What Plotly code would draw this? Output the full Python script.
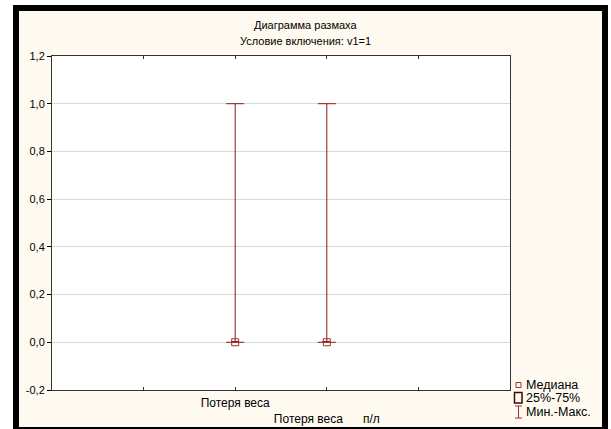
import plotly.graph_objects as go

# ---- data ----
title_text = "Диаграмма размаха"
subtitle_text = "Условие включения: v1=1"
categories = ["Потеря веса", "Потеря веса      п/л"]
cat_positions = [2, 3]
medians = [0.0, 0.0]
q1 = [0.0, 0.0]
q3 = [0.0, 0.0]
mins = [0.0, 0.0]
maxs = [1.0, 1.0]
y_tickvals = [-0.2, 0.0, 0.2, 0.4, 0.6, 0.8, 1.0, 1.2]
y_ticktext = ["-0,2", "0,0", "0,2", "0,4", "0,6", "0,8", "1,0", "1,2"]
x_tickvals = [1, 2, 3, 4]
legend_labels = ["Медиана", "25%-75%", "Мин.-Макс."]

# ---- geometry helpers (pixel -> paper) ----
W, H = 611, 429
L, R, T, B = 52, 101, 56, 39
PW, PH = W - L - R, H - T - B


def px(x):
    return (x - L) / PW


def py(y):
    return (H - B - y) / PH


RED = "#8B1A1A"
MED = "#A0302E"
FONT = "Liberation Sans, Arial, sans-serif"

fig = go.Figure()

# box 25%-75%
fig.add_trace(go.Bar(
    x=cat_positions, y=[b - a for a, b in zip(q1, q3)], base=q1,
    width=0.08, marker=dict(color="rgba(0,0,0,0)", line=dict(color=RED, width=1)),
    hoverinfo="skip", showlegend=False))

# min-max whiskers
fig.add_trace(go.Scatter(
    x=cat_positions, y=medians, mode="markers",
    marker=dict(size=1, color="rgba(0,0,0,0)"),
    error_y=dict(type="data", symmetric=False,
                 array=[mx - m for mx, m in zip(maxs, medians)],
                 arrayminus=[m - mn for m, mn in zip(medians, mins)],
                 color=RED, thickness=1, width=9),
    showlegend=False, hoverinfo="skip"))

# medians
fig.add_trace(go.Scatter(
    x=cat_positions, y=medians, mode="markers",
    marker=dict(symbol="square-open", size=7, color=MED, line=dict(width=1, color=MED)),
    showlegend=False))

shapes = [
    dict(type="rect", xref="paper", yref="paper", x0=px(13), x1=px(608), y0=py(433), y1=py(5),
         fillcolor="black", line=dict(width=0), layer="below"),
    dict(type="rect", xref="paper", yref="paper", x0=px(19), x1=px(602), y0=py(427), y1=py(11),
         fillcolor="#FFFAF0", line=dict(width=0), layer="below"),
    dict(type="rect", xref="paper", yref="paper", x0=0, x1=1, y0=0, y1=1,
         fillcolor="white", line=dict(width=0), layer="below"),
    # legend symbols
    dict(type="rect", xref="paper", yref="paper", x0=px(516), x1=px(521), y0=py(387.5), y1=py(382.5),
         line=dict(color=MED, width=1)),
    dict(type="rect", xref="paper", yref="paper", x0=px(514.5), x1=px(522), y0=py(403), y1=py(392.5),
         line=dict(color="#3A0A0A", width=1.5)),
    dict(type="line", xref="paper", yref="paper", x0=px(518.5), x1=px(518.5), y0=py(418), y1=py(406),
         line=dict(color=MED, width=1)),
    dict(type="line", xref="paper", yref="paper", x0=px(515), x1=px(522), y0=py(406), y1=py(406),
         line=dict(color=MED, width=1)),
    dict(type="line", xref="paper", yref="paper", x0=px(515), x1=px(522), y0=py(418), y1=py(418),
         line=dict(color=MED, width=1)),
]

annotations = [
    dict(text=title_text, xref="paper", yref="paper", x=px(305.5), y=py(25), showarrow=False,
         xanchor="center", yanchor="middle", font=dict(size=11, color="black", family=FONT)),
    dict(text=subtitle_text, xref="paper", yref="paper", x=px(305.5), y=py(41), showarrow=False,
         xanchor="center", yanchor="middle", font=dict(size=11, color="black", family=FONT)),
]
for lbl, yy in zip(legend_labels, [385, 398, 412]):
    annotations.append(dict(text=lbl, xref="paper", yref="paper", x=px(524), y=py(yy), showarrow=False,
                            xanchor="left", yanchor="middle",
                            font=dict(size=12.5, color="black", family=FONT)))

x_ticktext = [""] + [categories[0].replace(" ", "\u00a0"),
                     "<br>" + categories[1].replace(" ", "\u00a0")] + [""]

fig.update_layout(
    width=W, height=H,
    margin=dict(l=L, r=R, t=T, b=B, pad=0),
    paper_bgcolor="white", plot_bgcolor="white",
    showlegend=False, bargap=0,
    font=dict(family=FONT, size=11, color="black"),
    shapes=shapes, annotations=annotations,
    xaxis=dict(range=[0, 5], tickvals=x_tickvals, ticktext=x_ticktext,
               ticks="inside", ticklen=3, tickcolor="#333333", ticklabelstandoff=2,
               showline=True, linecolor="#333333", linewidth=1, mirror="ticks",
               showgrid=False, zeroline=False, fixedrange=True, automargin=False,
               tickfont=dict(size=12, family=FONT, color="black")),
    yaxis=dict(range=[-0.2, 1.2], tickvals=y_tickvals, ticktext=y_ticktext,
               ticks="outside", ticklen=4, tickcolor="black",
               showline=True, linecolor="#333333", linewidth=1, mirror=True,
               showgrid=True, gridcolor="#D9D9D9", gridwidth=1, zeroline=False,
               fixedrange=True, automargin=False,
               tickfont=dict(size=11, family=FONT, color="black")),
)

fig.write_html("out.html", config={"displayModeBar": False},
               post_script="document.body.style.margin='0px';")
